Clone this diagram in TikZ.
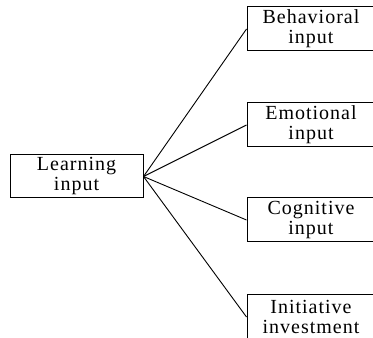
\documentclass[tikz,border=0pt]{standalone}
\usepackage{fontspec}
\setmainfont{Liberation Serif}[LetterSpace=5.0]
\begin{document}
\begin{tikzpicture}[x=1pt,y=1pt,
  box/.style={draw=black,line width=1pt,rectangle,inner sep=0pt,align=center,
    font=\fontsize{20}{20}\selectfont},
  conn/.style={draw=black,line width=0.9pt}]
\useasboundingbox (0,0) rectangle (373,338);
\node[box,minimum width=133pt,minimum height=43pt] (learn) at (76.5,161.5) {Learning\\input};
\node[box,minimum width=128pt,minimum height=44pt] (beh) at (311,309) {Behavioral\\input};
\node[box,minimum width=128pt,minimum height=44pt] (emo) at (311,213) {Emotional\\input};
\node[box,minimum width=128pt,minimum height=44pt] (cog) at (311,118) {Cognitive\\input};
\node[box,minimum width=128pt,minimum height=44pt] (ini) at (311,21) {Initiative\\investment};
\draw[conn] (learn.east) -- (beh.west);
\draw[conn] (learn.east) -- (emo.west);
\draw[conn] (learn.east) -- (cog.west);
\draw[conn] (learn.east) -- (ini.west);
\end{tikzpicture}
\end{document}
